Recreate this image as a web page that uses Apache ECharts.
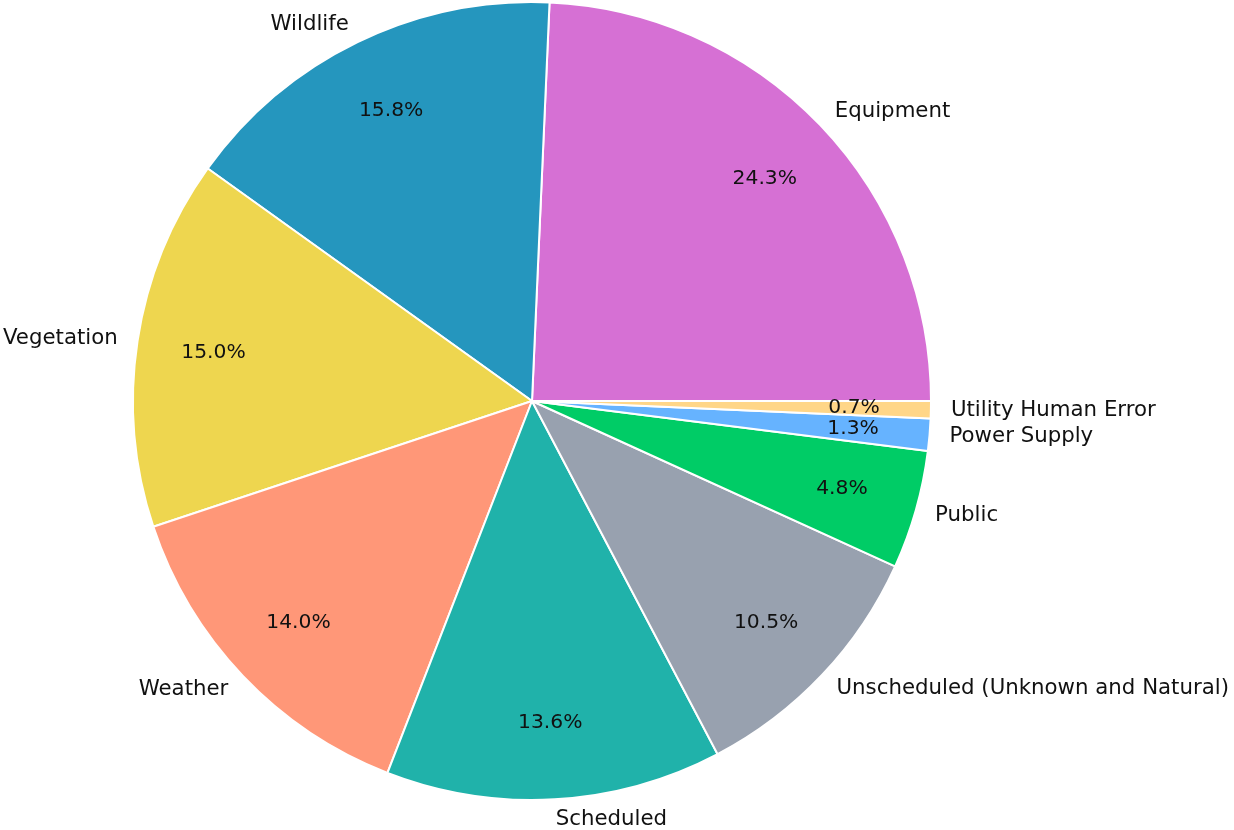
<!DOCTYPE html>
<html>
<head>
<meta charset="utf-8">
<script src="https://cdn.jsdelivr.net/npm/echarts@6/dist/echarts.min.js"></script>
<style>html,body{margin:0;padding:0;background:#fff;}#chart{width:1234px;height:830px;}</style>
</head>
<body>
<div id="chart"></div>
<script>
const categories = ['Equipment', 'Wildlife', 'Vegetation', 'Weather', 'Scheduled', 'Unscheduled (Unknown and Natural)', 'Public', 'Power Supply', 'Utility Human Error'];
const shares = [24.3, 15.8, 15.0, 14.0, 13.6, 10.5, 4.8, 1.3, 0.7];
const colors = ['#d670d4', '#2596be', '#eed64f', '#ff9778', '#20b2aa', '#98a1af', '#00cc66', '#66b3ff', '#ffd688'];

const R = 399;
const center = [532, 401];
const font = 'DejaVu Sans';

const mainData = categories.map((c, i) => ({ name: c, value: shares[i], itemStyle: { color: colors[i] } }));
const pctData = categories.map((c, i) => ({ name: c, value: shares[i] }));

const chart = echarts.init(document.getElementById('chart'), null, { renderer: 'canvas' });
chart.setOption({
  backgroundColor: '#ffffff',
  animation: false,
  series: [
    {
      type: 'pie',
      center: center,
      radius: [0, R],
      startAngle: 0,
      clockwise: false,
      avoidLabelOverlap: false,
      silent: true,
      itemStyle: { borderColor: '#ffffff', borderWidth: 2 },
      label: {
        show: true,
        position: 'outside',
        distanceToLabelLine: 0,
        fontFamily: font,
        fontSize: 21.3,
        color: '#111111',
        formatter: '{b}'
      },
      labelLine: { show: false, length: 20, length2: 0 },
      data: mainData
    },
    {
      type: 'pie',
      center: center,
      radius: [R * 0.6, R],
      startAngle: 0,
      clockwise: false,
      avoidLabelOverlap: false,
      silent: true,
      itemStyle: { color: 'rgba(0,0,0,0)', borderWidth: 0 },
      label: {
        show: true,
        position: 'inside',
        fontFamily: font,
        fontSize: 20.3,
        color: '#111111',
        formatter: p => p.value.toFixed(1) + '%'
      },
      labelLine: { show: false },
      data: pctData
    }
  ]
});
</script>
</body>
</html>
